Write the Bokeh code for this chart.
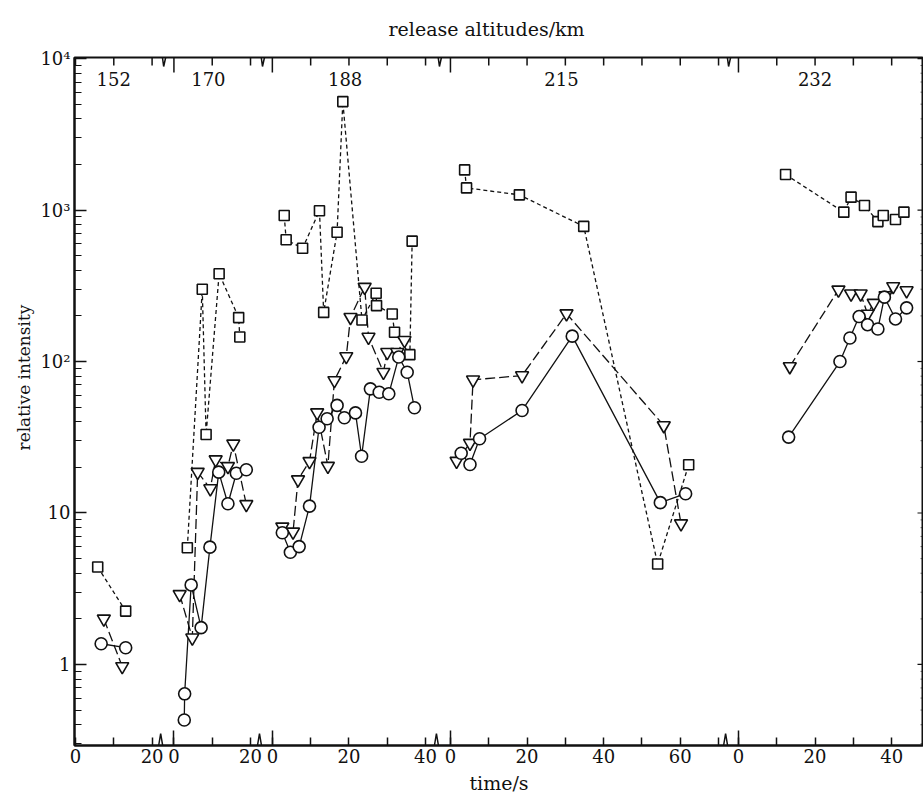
import math
from bokeh.plotting import figure
from bokeh.models import FixedTicker, Range1d, Title
from bokeh.core.properties import value
from bokeh.embed import file_html
from bokeh.resources import INLINE

FONT = "DejaVu Serif"
INK = "#111111"

# ---- release panels -------------------------------------------------------
altitudes = ["152", "170", "188", "215", "232"]
panel_start = [0.0, 25.7, 51.4, 97.9, 173.1]          # offset of each panel on the shared time axis
panel_ticks = [[0, 10, 20], [0, 10, 20], [0, 10, 20, 30, 40],
               [0, 10, 20, 30, 40, 50, 60, 70], [0, 10, 20, 30, 40]]
panel_labelled = [[0, 20], [0, 20], [0, 20, 40], [0, 20, 40, 60], [0, 20, 40]]
break_at = [22.5, 48.3, 94.5, 170.0]                    # axis breaks between panels
altitude_label_time = [10, 9, 19, 29, 20]

# ---- measured intensities (time/s, relative intensity) --------------------
# squares
sq_t1 = [5.8, 13.1]
sq_v1 = [4.4, 2.25]
sq_t2 = [3.5, 7.4, 8.4, 11.8, 16.9, 17.2]
sq_v2 = [5.9, 300, 33, 380, 195, 145]
sq_t3 = [3.1, 3.6, 7.9, 12.3, 13.4, 16.9, 18.4, 23.4, 27.1, 27.2, 31.3, 31.9, 35.9, 36.5]
sq_v3 = [920, 636, 560, 990, 211, 714, 5200, 188, 282, 234, 206, 156, 111, 623]
sq_t4 = [3.7, 4.2, 18.0, 34.8, 54.1, 62.2]
sq_v4 = [1840, 1400, 1260, 780, 4.6, 20.8]
sq_t5 = [12.3, 27.5, 29.4, 32.9, 36.4, 37.8, 41.0, 43.2]
sq_v5 = [1715, 968, 1216, 1072, 839, 920, 866, 968]

# inverted triangles
tri_t1 = [7.4, 12.2]
tri_v1 = [2.0, 0.97]
tri_t2 = [1.5, 4.8, 6.2, 9.5, 10.9, 14.1, 15.5, 18.9]
tri_v2 = [2.9, 1.5, 18.6, 14.5, 22.5, 20.3, 28.6, 11.4]
tri_t3 = [2.6, 5.4, 6.7, 9.7, 11.7, 14.5, 16.2, 19.3, 20.4, 24.1, 25.1, 29.0, 30.0, 32.6, 34.5]
tri_v3 = [8.1, 7.5, 16.6, 21.9, 46, 20.4, 75, 108, 196, 310, 145, 85, 115, 115, 138]
tri_t4 = [1.6, 5.1, 5.9, 18.7, 30.3, 55.7, 60.2]
tri_v4 = [22, 28.9, 75.7, 80.8, 207, 37.8, 8.5]
tri_t5 = [13.4, 26.1, 29.4, 31.9, 33.7, 35.3, 38.4, 40.4, 43.9]
tri_v5 = [92.7, 297, 280, 280, 206, 243, 273, 313, 294]

# circles
circ_t1 = [6.7, 13.1]
circ_v1 = [1.37, 1.29]
circ_t2 = [2.7, 2.8, 4.5, 7.1, 9.4, 11.7, 14.1, 16.3, 18.9]
circ_v2 = [0.43, 0.64, 3.35, 1.75, 5.95, 18.6, 11.5, 18.3, 19.3]
circ_t3 = [2.6, 4.7, 7.0, 9.7, 12.2, 14.3, 16.9, 18.8, 21.7, 23.3, 25.6, 27.9, 30.4, 33.0, 35.2, 37.1]
circ_v3 = [7.4, 5.5, 6.0, 11.1, 36.8, 41.9, 51.3, 42.5, 45.8, 23.7, 66, 62.7, 61.2, 107, 85, 49.5]
circ_t4 = [2.8, 5.1, 7.6, 18.7, 31.8, 54.8, 61.4]
circ_v4 = [24.8, 20.9, 30.9, 47.5, 147, 11.7, 13.4]
circ_t5 = [13.1, 26.5, 29.1, 31.5, 33.7, 36.4, 38.1, 41.0, 43.9]
circ_v5 = [31.7, 100, 143, 198, 175, 164, 266, 191, 226]

y_ticks = [1, 10, 100, 1000, 10000]
y_tick_labels = ["1", "10", "10\u00b2", "10\u00b3", "10\u2074"]

# ---- geometry ---------------------------------------------------------------
LEFT, TOP, BOTTOM = 74, 57, 53
W, H = 923, 798
FRAME_W, FRAME_H = W - LEFT, H - TOP - BOTTOM
PX_PER_S = 3.83
X0 = -0.26
X1 = X0 + FRAME_W / PX_PER_S
LOG0, LOG1 = -0.535, 4.007
PX_PER_DEC = FRAME_H / (LOG1 - LOG0)
Y0, Y1 = 10 ** LOG0, 10 ** LOG1

p = figure(width=W, height=H, output_backend="svg", toolbar_location=None,
           x_range=Range1d(X0, X1), y_range=Range1d(Y0, Y1),
           y_axis_type="log", min_border_left=LEFT, min_border_right=0,
           min_border_top=TOP, min_border_bottom=BOTTOM)
p.grid.visible = False
p.background_fill_color = "white"
p.border_fill_color = "white"
p.outline_line_color = INK
p.outline_line_width = 2

# ---- time axis (broken, one block per release) ---------------------------
all_ticks, overrides = [], {}
for start, ticks, labelled in zip(panel_start, panel_ticks, panel_labelled):
    for t in ticks:
        pos = round(start + t, 3)
        all_ticks.append(pos)
        overrides[pos] = str(t) if t in labelled else ""
starts = [round(s, 3) for s in panel_start[1:]]

xa = p.xaxis[0]
xa.ticker = FixedTicker(ticks=all_ticks, minor_ticks=starts)
xa.major_label_overrides = overrides
xa.major_tick_in = 8
xa.major_tick_out = 0
xa.minor_tick_in = 15
xa.minor_tick_out = 0
xa.axis_line_width = 2
xa.axis_line_color = INK
xa.major_tick_line_color = INK
xa.minor_tick_line_color = INK
xa.major_tick_line_width = 1.5
xa.minor_tick_line_width = 1.5
xa.major_label_text_font = FONT
xa.major_label_text_font_size = "18px"
xa.major_label_text_color = INK
xa.major_label_standoff = 3
xa.axis_label = "time/s"
xa.axis_label_text_font = FONT
xa.axis_label_text_font_size = "19px"
xa.axis_label_text_font_style = "normal"
xa.axis_label_text_color = INK
xa.axis_label_standoff = 6

# ticks along the top edge mirror the time axis, pointing inwards
short_top = [t for t in all_ticks if t not in starts]
p.ray(x=short_top, y=[Y1] * len(short_top), length=8, length_units="screen",
      angle=-math.pi / 2, line_color=INK, line_width=1.5)
p.ray(x=starts, y=[Y1] * len(starts), length=15, length_units="screen",
      angle=-math.pi / 2, line_color=INK, line_width=1.5)

# ---- intensity axis -------------------------------------------------------
minor = [m * 10 ** d for d in range(-1, 4) for m in range(2, 10) if m * 10 ** d > Y0]

ya = p.yaxis[0]
ya.ticker = FixedTicker(ticks=y_ticks, minor_ticks=minor)
ya.major_label_overrides = dict(zip(y_ticks, y_tick_labels))
ya.axis_line_width = 2
ya.axis_line_color = INK
ya.major_tick_line_color = INK
ya.minor_tick_line_color = INK
ya.major_tick_in = 12
ya.minor_tick_in = 7
ya.major_tick_out = 0
ya.minor_tick_out = 0
ya.major_tick_line_width = 1.5
ya.minor_tick_line_width = 1.2
ya.major_label_text_font = FONT
ya.major_label_text_font_size = "18px"
ya.major_label_text_color = INK
ya.major_label_standoff = 4

# right edge ticks, pointing inwards
p.ray(x=[X1] * len(y_ticks), y=y_ticks, length=6, length_units="screen",
      angle=math.pi, line_color=INK, line_width=1.2)
p.ray(x=[X1] * len(minor), y=minor, length=3, length_units="screen",
      angle=math.pi, line_color=INK, line_width=1, line_alpha=0.6)

# ---- break marks on top and bottom axis lines ----------------------------
zig_dx = [-3, -1, 2, 4]
zig_dy_bottom = [0, 12, -6, 0]
zig_dy_top = [0, 13, -9, 0]
for b in break_at:
    xs = [b + dx / PX_PER_S for dx in zig_dx]
    p.line(xs, [10 ** (LOG0 + dy / PX_PER_DEC) for dy in zig_dy_bottom],
           line_color=INK, line_width=1.5)
    p.line(xs, [10 ** (LOG1 + dy / PX_PER_DEC) for dy in zig_dy_top],
           line_color=INK, line_width=1.5)

# ---- data -----------------------------------------------------------------
series = [
    ("square", [sq_t1, sq_t2, sq_t3, sq_t4, sq_t5], [sq_v1, sq_v2, sq_v3, sq_v4, sq_v5], "4 3", 10),
    ("inverted_triangle", [tri_t1, tri_t2, tri_t3, tri_t4, tri_t5],
     [tri_v1, tri_v2, tri_v3, tri_v4, tri_v5], "10 4", 13),
    ("circle", [circ_t1, circ_t2, circ_t3, circ_t4, circ_t5],
     [circ_v1, circ_v2, circ_v3, circ_v4, circ_v5], "solid", 12),
]

for marker, ts, vs, dash, size in series:
    for start, t, v in zip(panel_start, ts, vs):
        p.line([start + ti for ti in t], v, line_color=INK, line_width=1.3, line_dash=dash)

for marker, ts, vs, dash, size in series:
    for start, t, v in zip(panel_start, ts, vs):
        p.scatter([start + ti for ti in t], v, marker=marker, size=size,
                  fill_color="white", line_color=INK, line_width=1.6)

# ---- release altitude labels inside the top of each panel --------------------
label_y = 10 ** (LOG1 - 21.5 / PX_PER_DEC)
p.text(x=[s + t for s, t in zip(panel_start, altitude_label_time)],
       y=[label_y] * len(altitudes), text=altitudes, text_font=value(FONT),
       text_font_size="18px", text_color=INK, text_align="center",
       text_baseline="middle")

# ---- titles -------------------------------------------------------------------
p.add_layout(Title(text="release altitudes/km", align="left", offset=314, standoff=32,
                   vertical_align="top", text_font=FONT, text_font_size="19px",
                   text_font_style="normal", text_color=INK), "above")
p.add_layout(Title(text="relative intensity", align="left", offset=295, standoff=8,
                   text_font=FONT, text_font_size="17px", text_font_style="normal",
                   text_color=INK), "left")

open("out.html", "w").write(file_html(p, INLINE))
